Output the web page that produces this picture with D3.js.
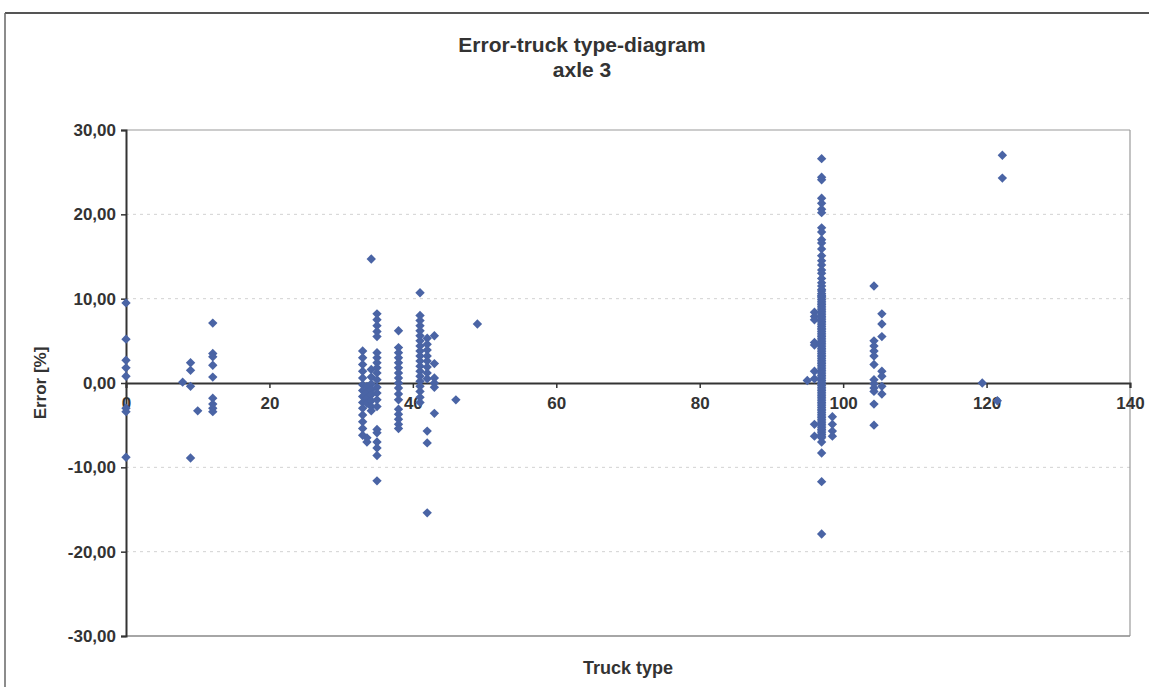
<!DOCTYPE html>
<html>
<head>
<meta charset="utf-8">
<script src="https://cdn.jsdelivr.net/npm/d3@7"></script>
<style>
  html, body { margin: 0; padding: 0; background: #fff; }
  svg text { font-family: "Liberation Sans", Arial, sans-serif; font-weight: bold; fill: #333; }
</style>
</head>
<body>
<svg id="chart" width="1149" height="687"></svg>
<script>
// ---- data ----
const titleLines = ["Error-truck type-diagram", "axle 3"];
const xAxisTitle = "Truck type";
const yAxisTitle = "Error [%]";
const xTicks = [0, 20, 40, 60, 80, 100, 120, 140];
const yTicks = [-30, -20, -10, 0, 10, 20, 30];
const yTickLabels = ["-30,00", "-20,00", "-10,00", "0,00", "10,00", "20,00", "30,00"];

const truckTypes = [0, 7.9, 9, 10, 12.1, 33, 33.6, 34.2, 35, 38, 41, 42, 43, 46, 49,
                    95, 96, 97, 98.5, 104.3, 105.4, 119.4, 121.5, 122.2];
const errorsByType = [
  [9.5, 5.2, 2.7, 1.8, 0.8, -3.0, -3.4, -8.8],
  [0.1],
  [2.4, 1.5, -0.4, -8.9],
  [-3.3],
  [7.1, 3.5, 3.1, 2.1, 0.7, -1.8, -2.5, -3.0, -3.4],
  [3.8, 3.0, 2.2, 1.4, 0.6, -0.2, -0.9, -1.6, -2.3, -3.0, -3.8, -4.6, -5.4, -6.2],
  [-0.4, -1.1, -1.8, -2.4, -6.5, -7.0],
  [14.7, 1.6, 0.7, -0.1, -0.8, -1.4, -2.1, -2.8, -3.3],
  [8.2, 7.5, 6.8, 6.1, 5.5, 3.6, 3.0, 2.4, 1.8, 1.2, 0.4, -0.5, -1.2, -2.0, -2.8, -5.5, -5.9, -7.0, -7.7, -8.6, -11.6],
  [6.2, 4.2, 3.6, 3.0, 2.4, 1.8, 1.2, 0.6, 0.0, -0.6, -1.3, -2.0, -3.1, -3.7, -4.3, -4.9, -5.4],
  [10.7, 8.0, 7.4, 6.8, 6.2, 5.6, 5.0, 4.4, 3.8, 3.2, 2.6, 2.0, 1.4, 0.8, 0.2, -0.4, -1.0, -1.7, -2.3],
  [5.3, 4.6, 3.9, 3.2, 2.6, 1.9, 1.2, 0.5, -5.7, -7.1, -15.4],
  [5.6, 2.3, 0.6, 0.0, -0.5, -3.6],
  [-2.0],
  [7.0],
  [0.3],
  [8.4, 7.9, 7.5, 4.8, 4.5, 1.4, 0.5, -4.9, -6.3],
  [26.6, 24.4, 24.1, 21.9, 21.3, 20.6, 20.2, 18.4, 17.9, 17.0, 16.6, 15.9, 15.1, 14.5, 14.0, 13.4, 13.0, 12.4,
   11.9, 11.5, 11.1, 10.9, 10.6, 10.4, 10.3, 10.1, 9.9, 9.7, 9.5, 9.3, 9.1, 8.9, 8.7, 8.5, 8.3, 8.1, 7.9, 7.7,
   7.5, 7.3, 7.1, 6.9, 6.7, 6.5, 6.3, 6.1, 5.9, 5.7, 5.5, 5.3, 5.1, 4.9, 4.7, 4.5, 4.3, 4.1, 3.9, 3.7, 3.5,
   3.3, 3.1, 2.9, 2.7, 2.5, 2.3, 2.1, 1.9, 1.7, 1.5, 1.3, 1.1, 0.9, 0.7, 0.5, 0.3, 0.1, -0.1, -0.3, -0.5,
   -0.7, -0.9, -1.1, -1.3, -1.5, -1.7, -1.9, -2.1, -2.3, -2.5, -2.7, -2.9, -3.1, -3.3, -3.5, -3.7, -3.9,
   -4.1, -4.3, -4.5, -4.7, -4.9, -5.1, -5.3, -5.5, -5.7, -5.9, -6.1, -6.3, -6.5, -7.0, -8.3, -11.7, -17.9],
  [-4.0, -4.9, -5.7, -6.3],
  [11.5, 5.0, 4.4, 3.8, 3.2, 2.2, 0.4, -0.1, -0.6, -1.0, -2.5, -5.0],
  [8.2, 7.0, 5.5, 1.4, 0.8, -0.4, -1.3],
  [0.0],
  [-2.1],
  [27.0, 24.3]
];

// ---- layout ----
const svg = d3.select("#chart");
const plot = { left: 126, right: 1130, top: 130, bottom: 636 };
const x = d3.scaleLinear().domain([0, 140]).range([plot.left, plot.right]);
const y = d3.scaleLinear().domain([-30, 30]).range([plot.bottom, plot.top]);
const markerColor = "#4a64a5";

// outer frame
svg.append("line").attr("x1", 5).attr("x2", 1149).attr("y1", 13).attr("y2", 13)
  .attr("stroke", "#555").attr("stroke-width", 2);
svg.append("line").attr("x1", 5).attr("x2", 5).attr("y1", 13).attr("y2", 687)
  .attr("stroke", "#666").attr("stroke-width", 1.5);

// title
svg.append("text").attr("x", 582).attr("y", 52).attr("text-anchor", "middle")
  .style("font-size", "21px").text(titleLines[0]);
svg.append("text").attr("x", 582).attr("y", 77).attr("text-anchor", "middle")
  .style("font-size", "21px").text(titleLines[1]);

// gridlines
svg.append("g").selectAll("line").data(yTicks.filter(d => d !== 0 && Math.abs(d) !== 30)).join("line")
  .attr("x1", plot.left).attr("x2", plot.right)
  .attr("y1", d => y(d)).attr("y2", d => y(d))
  .attr("stroke", "#d2d2d2").attr("stroke-width", 1).attr("stroke-dasharray", "3,4");

// plot border (top, right, bottom)
svg.append("line").attr("x1", plot.left).attr("x2", plot.right).attr("y1", plot.top).attr("y2", plot.top)
  .attr("stroke", "#9a9a9a").attr("stroke-width", 1.2);
svg.append("line").attr("x1", plot.right).attr("x2", plot.right).attr("y1", plot.top).attr("y2", plot.bottom)
  .attr("stroke", "#9a9a9a").attr("stroke-width", 1.2);
svg.append("line").attr("x1", plot.left).attr("x2", plot.right).attr("y1", plot.bottom).attr("y2", plot.bottom)
  .attr("stroke", "#888").attr("stroke-width", 1.5);

// y axis
const yAxis = d3.axisLeft(y).tickValues(yTicks).tickSize(5).tickPadding(5)
  .tickFormat(d => yTickLabels[yTicks.indexOf(d)]);
const gy = svg.append("g").attr("transform", `translate(${plot.left},0)`).call(yAxis);
gy.select(".domain").attr("stroke", "#333").attr("stroke-width", 2);
gy.selectAll(".tick line").attr("stroke", "#333").attr("stroke-width", 1.5);
gy.selectAll(".tick text").style("font-size", "17px").style("font-family", null).attr("fill", "#333");

// x axis on zero line
const xAxis = d3.axisBottom(x).tickValues(xTicks).tickSize(5).tickPadding(9).tickFormat(d3.format("d"));
const gx = svg.append("g").attr("transform", `translate(0,${y(0)})`).call(xAxis);
gx.select(".domain").attr("stroke", "#333").attr("stroke-width", 2);
gx.selectAll(".tick line").attr("stroke", "#333").attr("stroke-width", 1.5);
gx.selectAll(".tick text").style("font-size", "17px").style("font-family", null).attr("fill", "#333");

// axis titles
svg.append("text").attr("x", 628).attr("y", 674).attr("text-anchor", "middle")
  .style("font-size", "18px").text(xAxisTitle);
svg.append("text").attr("transform", `translate(46,${y(0)}) rotate(-90)`).attr("text-anchor", "middle")
  .style("font-size", "17px").text(yAxisTitle);

// points
const points = truckTypes.flatMap((t, i) => errorsByType[i].map(e => ({ t, e })));
const diamond = d3.symbol().type(d3.symbolSquare).size(44);
svg.append("g").selectAll("path").data(points).join("path")
  .attr("d", diamond)
  .attr("transform", d => `translate(${x(d.t)},${y(d.e)}) rotate(45)`)
  .attr("fill", markerColor);
</script>
</body>
</html>
